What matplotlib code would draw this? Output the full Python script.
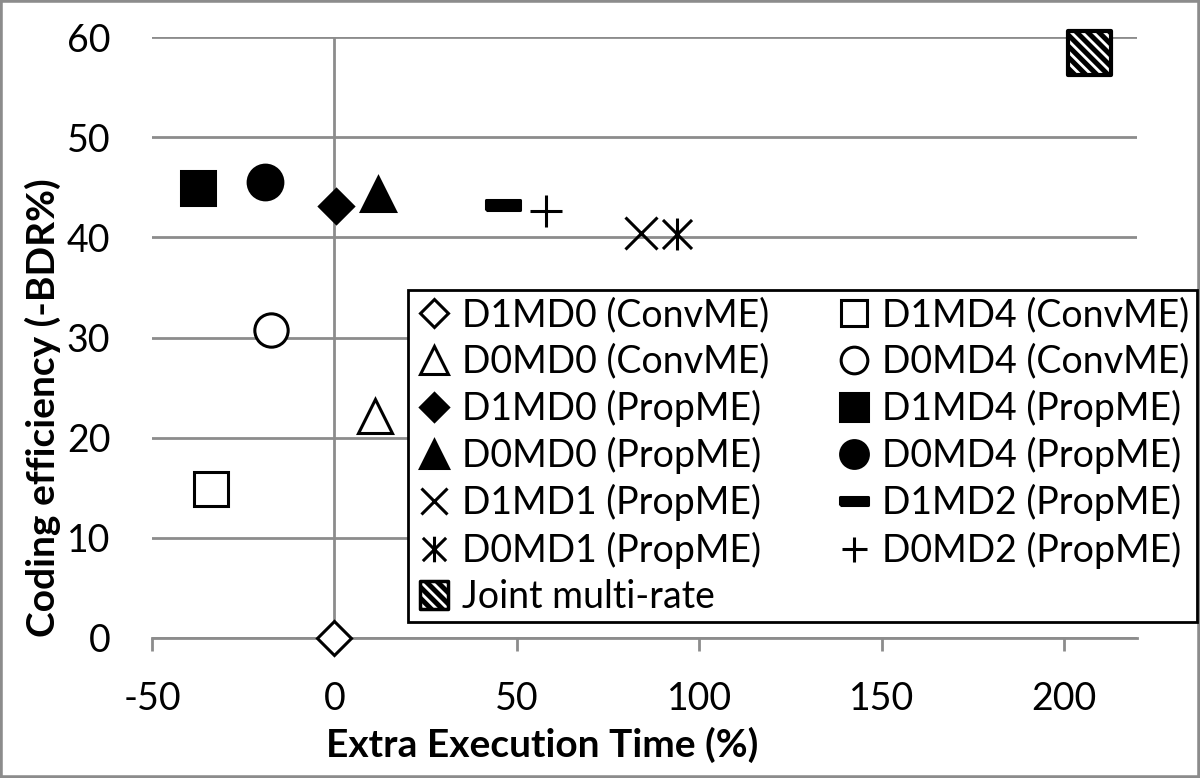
import numpy as np
import matplotlib.pyplot as plt
from matplotlib.path import Path
from matplotlib.patches import Rectangle

plt.rcParams['font.family'] = ['Lato', 'DejaVu Sans']
plt.rcParams['axes.unicode_minus'] = False
plt.rcParams['hatch.linewidth'] = 3.6

# data: extra execution time (%) and coding efficiency (-BDR%)
labels = ['D1MD0 (ConvME)', 'D1MD4 (ConvME)', 'D0MD0 (ConvME)', 'D0MD4 (ConvME)',
          'D1MD0 (PropME)', 'D1MD4 (PropME)', 'D0MD0 (PropME)', 'D0MD4 (PropME)',
          'D1MD1 (PropME)', 'D1MD2 (PropME)', 'D0MD1 (PropME)', 'D0MD2 (PropME)']
exec_time = [0, -33.8, 11.0, -17.5, 0.5, -37.3, 12.0, -19.0, 84.1, 46.3, 93.9, 57.9]
coding_eff = [0, 14.9, 22.2, 30.7, 43.1, 44.9, 44.3, 45.5, 40.4, 43.2, 40.3, 42.6]

joint_label = 'Joint multi-rate'
joint_time = [207]
joint_eff = [58.4]

xticks = [-50, 0, 50, 100, 150, 200]
yticks = [0, 10, 20, 30, 40, 50, 60]

# marker shapes
asterisk = Path([(-0.5, -0.5), (0.5, 0.5), (-0.5, 0.5), (0.5, -0.5), (0, -0.55), (0, 0.55)],
                [Path.MOVETO, Path.LINETO, Path.MOVETO, Path.LINETO, Path.MOVETO, Path.LINETO])
dash = [(-1.75, -0.5), (1.75, -0.5), (1.75, 0.5), (-1.75, 0.5), (-1.75, -0.5)]

# marker, size, filled
styles = [('D', 17.3, False), ('s', 24, False), ('^', 24.5, False), ('o', 24, False),
          ('D', 17.3, True), ('s', 24.5, True), ('^', 25, True), ('o', 25, True),
          ('x', 23, False), (dash, 25, True), (asterisk, 23, False), ('+', 22.5, False)]

grey = '#8c8c8c'

fig = plt.figure(figsize=(12, 7.78), dpi=100)
ax = fig.add_axes([152 / 1200, 1 - 638 / 778, (1137 - 152) / 1200, (638 - 37) / 778])

handles = []
for lab, x, y, (m, ms, filled) in zip(labels, exec_time, coding_eff, styles):
    h, = ax.plot([x], [y], linestyle='none', marker=m, markersize=ms,
                 markerfacecolor='black' if filled else 'white',
                 markeredgecolor='black', markeredgewidth=2.2, label=lab,
                 clip_on=False, zorder=3)
    handles.append(h)

ax.scatter(joint_time, joint_eff, marker='s', s=31 ** 2, facecolor='white',
           edgecolor='black', linewidth=3, hatch='\\\\\\', clip_on=False, zorder=3)
joint_handle = ax.scatter([], [], marker='s', s=25 ** 2, facecolor='white',
                          edgecolor='black', linewidth=2.5, hatch='\\\\\\', label=joint_label)

ax.set_xlim(-50, 220)
ax.set_ylim(0, 60)
ax.set_xticks(xticks)
ax.set_yticks(yticks)
ax.grid(axis='y', color=grey, linewidth=2)
ax.set_axisbelow(True)
ax.axvline(0, color=grey, linewidth=2, zorder=1)

for s in ['top', 'right', 'left']:
    ax.spines[s].set_visible(False)
ax.spines['bottom'].set_color(grey)
ax.spines['bottom'].set_linewidth(2)

ax.tick_params(axis='x', direction='out', length=9, width=2, color=grey, pad=22, labelsize=27)
ax.tick_params(axis='y', length=0, pad=30, labelsize=27)

ax.set_xlabel('Extra Execution Time (%)', fontsize=28, fontweight='bold')
ax.set_ylabel('Coding efficiency (-BDR%)', fontsize=28, fontweight='bold')
ax.xaxis.set_label_coords(0.396, -0.178)
ax.xaxis.label.set_va('center')
ax.yaxis.set_label_coords(-0.111, 0.383)
ax.yaxis.label.set_va('center')

# legend rows in excel order: left column then right column
order = [0, 2, 4, 6, 8, 10, 1, 3, 5, 7, 9, 11]
leg_handles = [handles[i] for i in order[:6]] + [joint_handle] + [handles[i] for i in order[6:]]
leg = fig.legend(handles=leg_handles, ncol=2, loc='upper left',
                 bbox_to_anchor=(408 / 1200, 1 - 623 / 778, (1197 - 408) / 1200, (623 - 290) / 778),
                 mode='expand', borderaxespad=0, fontsize=27, markerscale=0.8,
                 scatteryoffsets=[0.5], fancybox=False, framealpha=1, edgecolor='black',
                 handlelength=1.0, handletextpad=0.25, labelspacing=0.27, borderpad=0.2,
                 columnspacing=0.8)
leg.get_frame().set_linewidth(2)

fig.patches.append(Rectangle((0, 0), 1, 1, transform=fig.transFigure, fill=False,
                             edgecolor=grey, linewidth=4))

fig.savefig('out.png', dpi=100)
